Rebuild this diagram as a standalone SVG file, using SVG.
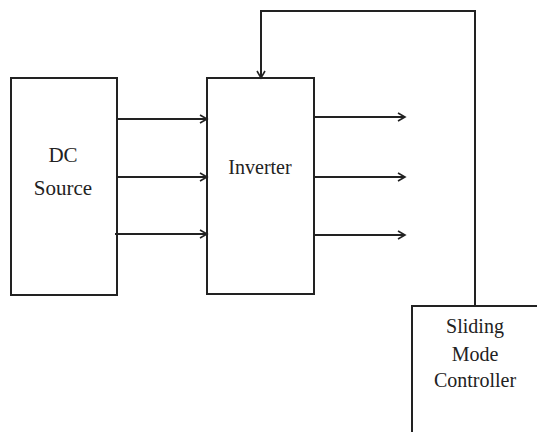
<svg xmlns="http://www.w3.org/2000/svg" width="537" height="432" viewBox="0 0 537 432">
<defs>
<marker id="arr" markerWidth="10" markerHeight="10" refX="8" refY="5" orient="auto" markerUnits="userSpaceOnUse">
<path d="M1,1 L8,5 L1,9" fill="none" stroke="#222" stroke-width="1.6"/>
</marker>
</defs>
<style>
.box{fill:#fff;stroke:#222;stroke-width:2}
.ln{fill:none;stroke:#222;stroke-width:2}
.t{font-family:"Liberation Serif","Times New Roman",serif;font-size:20px;fill:#222;text-anchor:middle}
</style>
<rect width="537" height="432" fill="#fff"/>
<g id="dc-source">
<rect class="box" x="11" y="78" width="106" height="217"/>
<text class="t" x="63" y="162" style="font-size:21px">DC</text>
<text class="t" x="63" y="195" style="font-size:21px">Source</text>
</g>
<g id="inverter">
<rect class="box" x="207" y="78" width="107" height="216"/>
<text class="t" x="260" y="174">Inverter</text>
</g>
<g id="smc">
<rect class="box" x="412" y="306" width="140" height="140"/>
<text class="t" x="475" y="333">Sliding</text>
<text class="t" x="475" y="361">Mode</text>
<text class="t" x="475" y="387">Controller</text>
</g>
<g id="connectors">
<line class="ln" x1="117" y1="119" x2="207" y2="119" marker-end="url(#arr)"/>
<line class="ln" x1="117" y1="177" x2="207" y2="177" marker-end="url(#arr)"/>
<line class="ln" x1="115" y1="234" x2="207" y2="234" marker-end="url(#arr)"/>
<line class="ln" x1="314" y1="117" x2="405" y2="117" marker-end="url(#arr)"/>
<line class="ln" x1="314" y1="177" x2="405" y2="177" marker-end="url(#arr)"/>
<line class="ln" x1="314" y1="235" x2="405" y2="235" marker-end="url(#arr)"/>
<polyline class="ln" points="475,306 475,11 261,11 261,78" marker-end="url(#arr)"/>
</g>
</svg>
